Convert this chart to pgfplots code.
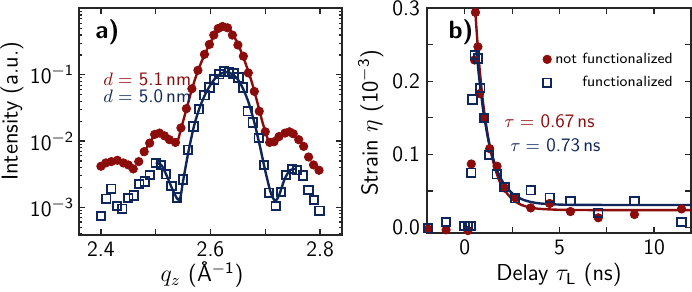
\documentclass[border=0pt]{standalone}
\usepackage{pgfplots}
\pgfplotsset{compat=1.18}
\renewcommand{\familydefault}{\sfdefault}
\definecolor{dred}{RGB}{140,12,12}
\definecolor{dblue}{RGB}{14,38,90}
\pgfplotsset{
  common/.style={
    scale only axis,
    anchor=south west,
    tick align=inside,
    major tick length=3pt,
    minor tick length=1.6pt,
    axis line style={line width=0.8pt, black!85},
    every tick/.style={black!85, line width=0.6pt},
    /pgf/number format/assume math mode=true,
    tick label style={font=\fontsize{11}{12}\selectfont},
    label style={font=\fontsize{11.5}{13}\selectfont},
  }
}
\begin{document}
\begin{tikzpicture}
\path[use as bounding box] (0,0) rectangle (346pt,145.5pt);
% ---------------- panel a ----------------
\begin{axis}[common,
  at={(39.5pt,28pt)},
  width=131.5pt, height=113.5pt,
  xmin=2.36, xmax=2.84,
  ymode=log, ymin=3.82e-4, ymax=1.02,
  xtick={2.4,2.5,2.6,2.7,2.8}, xticklabels={2.4,,2.6,,2.8},
  ytick={1e-3,1e-2,1e-1},
  yticklabels={10\textsuperscript{$-$3},10\textsuperscript{$-$2},10\textsuperscript{$-$1}},
  minor ytick={4e-4,5e-4,6e-4,7e-4,8e-4,9e-4,2e-3,3e-3,4e-3,5e-3,6e-3,7e-3,8e-3,9e-3,2e-2,3e-2,4e-2,5e-2,6e-2,7e-2,8e-2,9e-2,2e-1,3e-1,4e-1,5e-1,6e-1,7e-1,8e-1,9e-1},
  xlabel={$q_z$ (\AA\textsuperscript{$-$1})},
  ylabel={Intensity (a.u.)},
  xlabel style={at={(axis description cs:0.468,-0.176)}, anchor=center},
  ylabel style={at={(axis description cs:-0.255,0.545)}, anchor=center},
  yticklabel style={xshift=1pt},
]
\addplot[only marks, mark=*, mark size=2.1pt, color=dred] coordinates {
(2.400,0.00417) (2.409,0.00468) (2.419,0.00490) (2.430,0.00513) (2.441,0.00468)
(2.450,0.00437) (2.459,0.00380) (2.469,0.00490) (2.479,0.00692) (2.489,0.00933)
(2.498,0.0126) (2.507,0.0132) (2.516,0.0120) (2.525,0.0105) (2.536,0.00955)
(2.546,0.0158) (2.556,0.0309) (2.566,0.0617) (2.577,0.117) (2.589,0.204)
(2.598,0.288) (2.606,0.398) (2.614,0.501) (2.622,0.537) (2.631,0.513)
(2.640,0.398) (2.650,0.282) (2.660,0.191) (2.669,0.107) (2.680,0.0562)
(2.689,0.0282) (2.700,0.0138) (2.708,0.00955) (2.716,0.00977) (2.725,0.0117)
(2.736,0.0132) (2.744,0.0138) (2.751,0.0129) (2.761,0.0105) (2.770,0.00832)
(2.779,0.00575) (2.788,0.00437) (2.798,0.00363)
};
\addplot[only marks, mark=square, mark size=2.1pt, color=dblue, mark options={line width=0.9pt, fill=none}] coordinates {
(2.400,0.000741) (2.410,0.00135) (2.419,0.00191) (2.429,0.00105) (2.439,0.000955)
(2.450,0.00138) (2.460,0.00151) (2.470,0.00224) (2.480,0.00245) (2.489,0.00309)
(2.500,0.00468) (2.510,0.00437) (2.519,0.00316) (2.529,0.00209) (2.539,0.00141)
(2.550,0.00263) (2.559,0.00741) (2.569,0.0166) (2.579,0.0302) (2.589,0.0490)
(2.598,0.0646) (2.607,0.0851) (2.616,0.102) (2.625,0.112) (2.634,0.110)
(2.642,0.105) (2.651,0.0912) (2.659,0.0646) (2.668,0.0282) (2.677,0.0191)
(2.688,0.0112) (2.698,0.00437) (2.707,0.00166) (2.719,0.00105) (2.729,0.00170)
(2.738,0.00309) (2.749,0.00380) (2.758,0.00363) (2.769,0.00302) (2.779,0.00182)
(2.789,0.00129) (2.799,0.000891)
};
\addplot[dred, line width=1.2pt, smooth] coordinates {
(2.475,0.00603) (2.485,0.00832) (2.495,0.0112) (2.505,0.0132) (2.515,0.0126)
(2.525,0.0110) (2.535,0.00955) (2.540,0.0100) (2.546,0.0151) (2.556,0.0302)
(2.566,0.0603) (2.577,0.115) (2.589,0.200) (2.600,0.309) (2.610,0.437)
(2.620,0.525) (2.628,0.537) (2.636,0.479) (2.645,0.355) (2.655,0.234)
(2.665,0.141) (2.675,0.0794) (2.685,0.0398) (2.695,0.0191) (2.705,0.0105)
(2.712,0.00912) (2.720,0.0102) (2.730,0.0126) (2.740,0.0138) (2.750,0.0132)
(2.757,0.0120)
};
\addplot[dblue, line width=1.2pt, smooth] coordinates {
(2.500,0.00468) (2.510,0.00437) (2.520,0.00302) (2.530,0.00191) (2.540,0.00132)
(2.545,0.00141) (2.550,0.00251) (2.560,0.00708) (2.570,0.0170) (2.580,0.0316)
(2.590,0.0501) (2.600,0.0708) (2.610,0.0912) (2.620,0.105) (2.630,0.110)
(2.640,0.102) (2.650,0.0851) (2.660,0.0603) (2.670,0.0372) (2.680,0.0191)
(2.690,0.00851) (2.700,0.00355) (2.710,0.00166) (2.718,0.00126) (2.725,0.00151)
(2.735,0.00263) (2.745,0.00363) (2.755,0.00380)
};
\node[anchor=west, inner sep=0pt, font=\fontsize{12.5}{13}\selectfont\bfseries] at (rel axis cs:0.061,0.894) {a)};
\node[anchor=west, inner sep=0pt, text=dred, font=\fontsize{9.5}{11}\selectfont] at (rel axis cs:0.091,0.687) {$d =$ 5.1\,nm};
\node[anchor=west, inner sep=0pt, text=dblue, font=\fontsize{9.5}{11}\selectfont] at (rel axis cs:0.091,0.612) {$d =$ 5.0\,nm};
\end{axis}
% ---------------- panel b ----------------
\begin{axis}[common,
  at={(213.5pt,29pt)},
  width=132pt, height=112.5pt,
  xmin=-2, xmax=11.95, ymin=-0.0073, ymax=0.3,
  xtick={0,2.5,5,7.5,10}, xticklabels={0,,5,,10},
  ytick={0,0.05,0.1,0.15,0.2,0.25,0.3},
  yticklabels={0.0,,0.1,,0.2,,0.3},
  xlabel={Delay $\tau_{\mathsf{L}}$ (ns)},
  ylabel={Strain $\eta$ (10\textsuperscript{$-$3})},
  xlabel style={at={(axis description cs:0.5,-0.187)}, anchor=center},
  ylabel style={at={(axis description cs:-0.213,0.49)}, anchor=center},
  legend style={draw=none, fill=none, at={(rel axis cs:0.955,0.83)}, anchor=north east,
    font=\fontsize{7.4}{8.5}\selectfont, row sep=1pt, inner sep=1pt},
  legend cell align=right,
]
\addplot[only marks, mark=*, mark size=2.1pt, color=dred] coordinates {
(-1.94,-0.002) (-0.99,-0.003) (0.16,-0.004) (0.34,0.087) (0.51,0.229)
(0.56,0.294) (0.69,0.247) (0.78,0.183) (1.03,0.150) (1.31,0.108)
(1.70,0.084) (2.11,0.054) (2.68,0.041) (3.48,0.027) (4.48,0.033)
(5.58,0.022) (7.05,0.0135) (8.96,0.018) (11.45,0.0256)
};
\addlegendentry{not functionalized}
\addplot[only marks, mark=square, mark size=2.1pt, color=dblue, mark options={line width=0.9pt, fill=none}] coordinates {
(-1.94,-0.001) (-0.99,0.008) (-0.02,0.002) (0.16,0.002) (0.30,0.002)
(0.34,0.075) (0.40,0.175) (0.52,0.236) (0.69,0.231) (0.82,0.191)
(1.02,0.150) (1.29,0.099) (1.68,0.073) (2.10,0.055) (2.66,0.040)
(3.48,0.051) (4.48,0.041) (5.58,0.0365) (7.05,0.0205) (8.96,0.0365)
(11.45,0.008)
};
\addlegendentry{functionalized}
\addplot[dred, line width=1.2pt, smooth, forget plot] coordinates {
(0.55,0.296) (0.70,0.241) (0.85,0.198) (1.00,0.163) (1.25,0.120) (1.50,0.090)
(1.75,0.069) (2.00,0.055) (2.50,0.0388) (3.00,0.031) (3.50,0.0273) (4.00,0.0256)
(5.00,0.0244) (6.00,0.0241) (8.00,0.024) (12.00,0.024)
};
\addplot[dblue, line width=1.2pt, smooth, forget plot] coordinates {
(0.62,0.240) (0.75,0.206) (0.90,0.174) (1.00,0.155) (1.25,0.119) (1.50,0.094)
(1.75,0.0755) (2.00,0.0626) (2.50,0.0469) (3.00,0.039) (3.50,0.035) (4.00,0.033)
(5.00,0.0315) (6.00,0.0311) (8.00,0.031) (12.00,0.031)
};
\node[anchor=west, inner sep=0pt, font=\fontsize{12.5}{13}\selectfont\bfseries] at (rel axis cs:0.08,0.893) {b)};
\node[anchor=west, inner sep=0pt, text=dred, font=\fontsize{9.5}{11}\selectfont] at (rel axis cs:0.292,0.495) {$\tau =$ 0.67\,ns};
\node[anchor=west, inner sep=0pt, text=dblue, font=\fontsize{9.5}{11}\selectfont] at (rel axis cs:0.314,0.391) {$\tau =$ 0.73\,ns};
\end{axis}
\end{tikzpicture}
\end{document}
